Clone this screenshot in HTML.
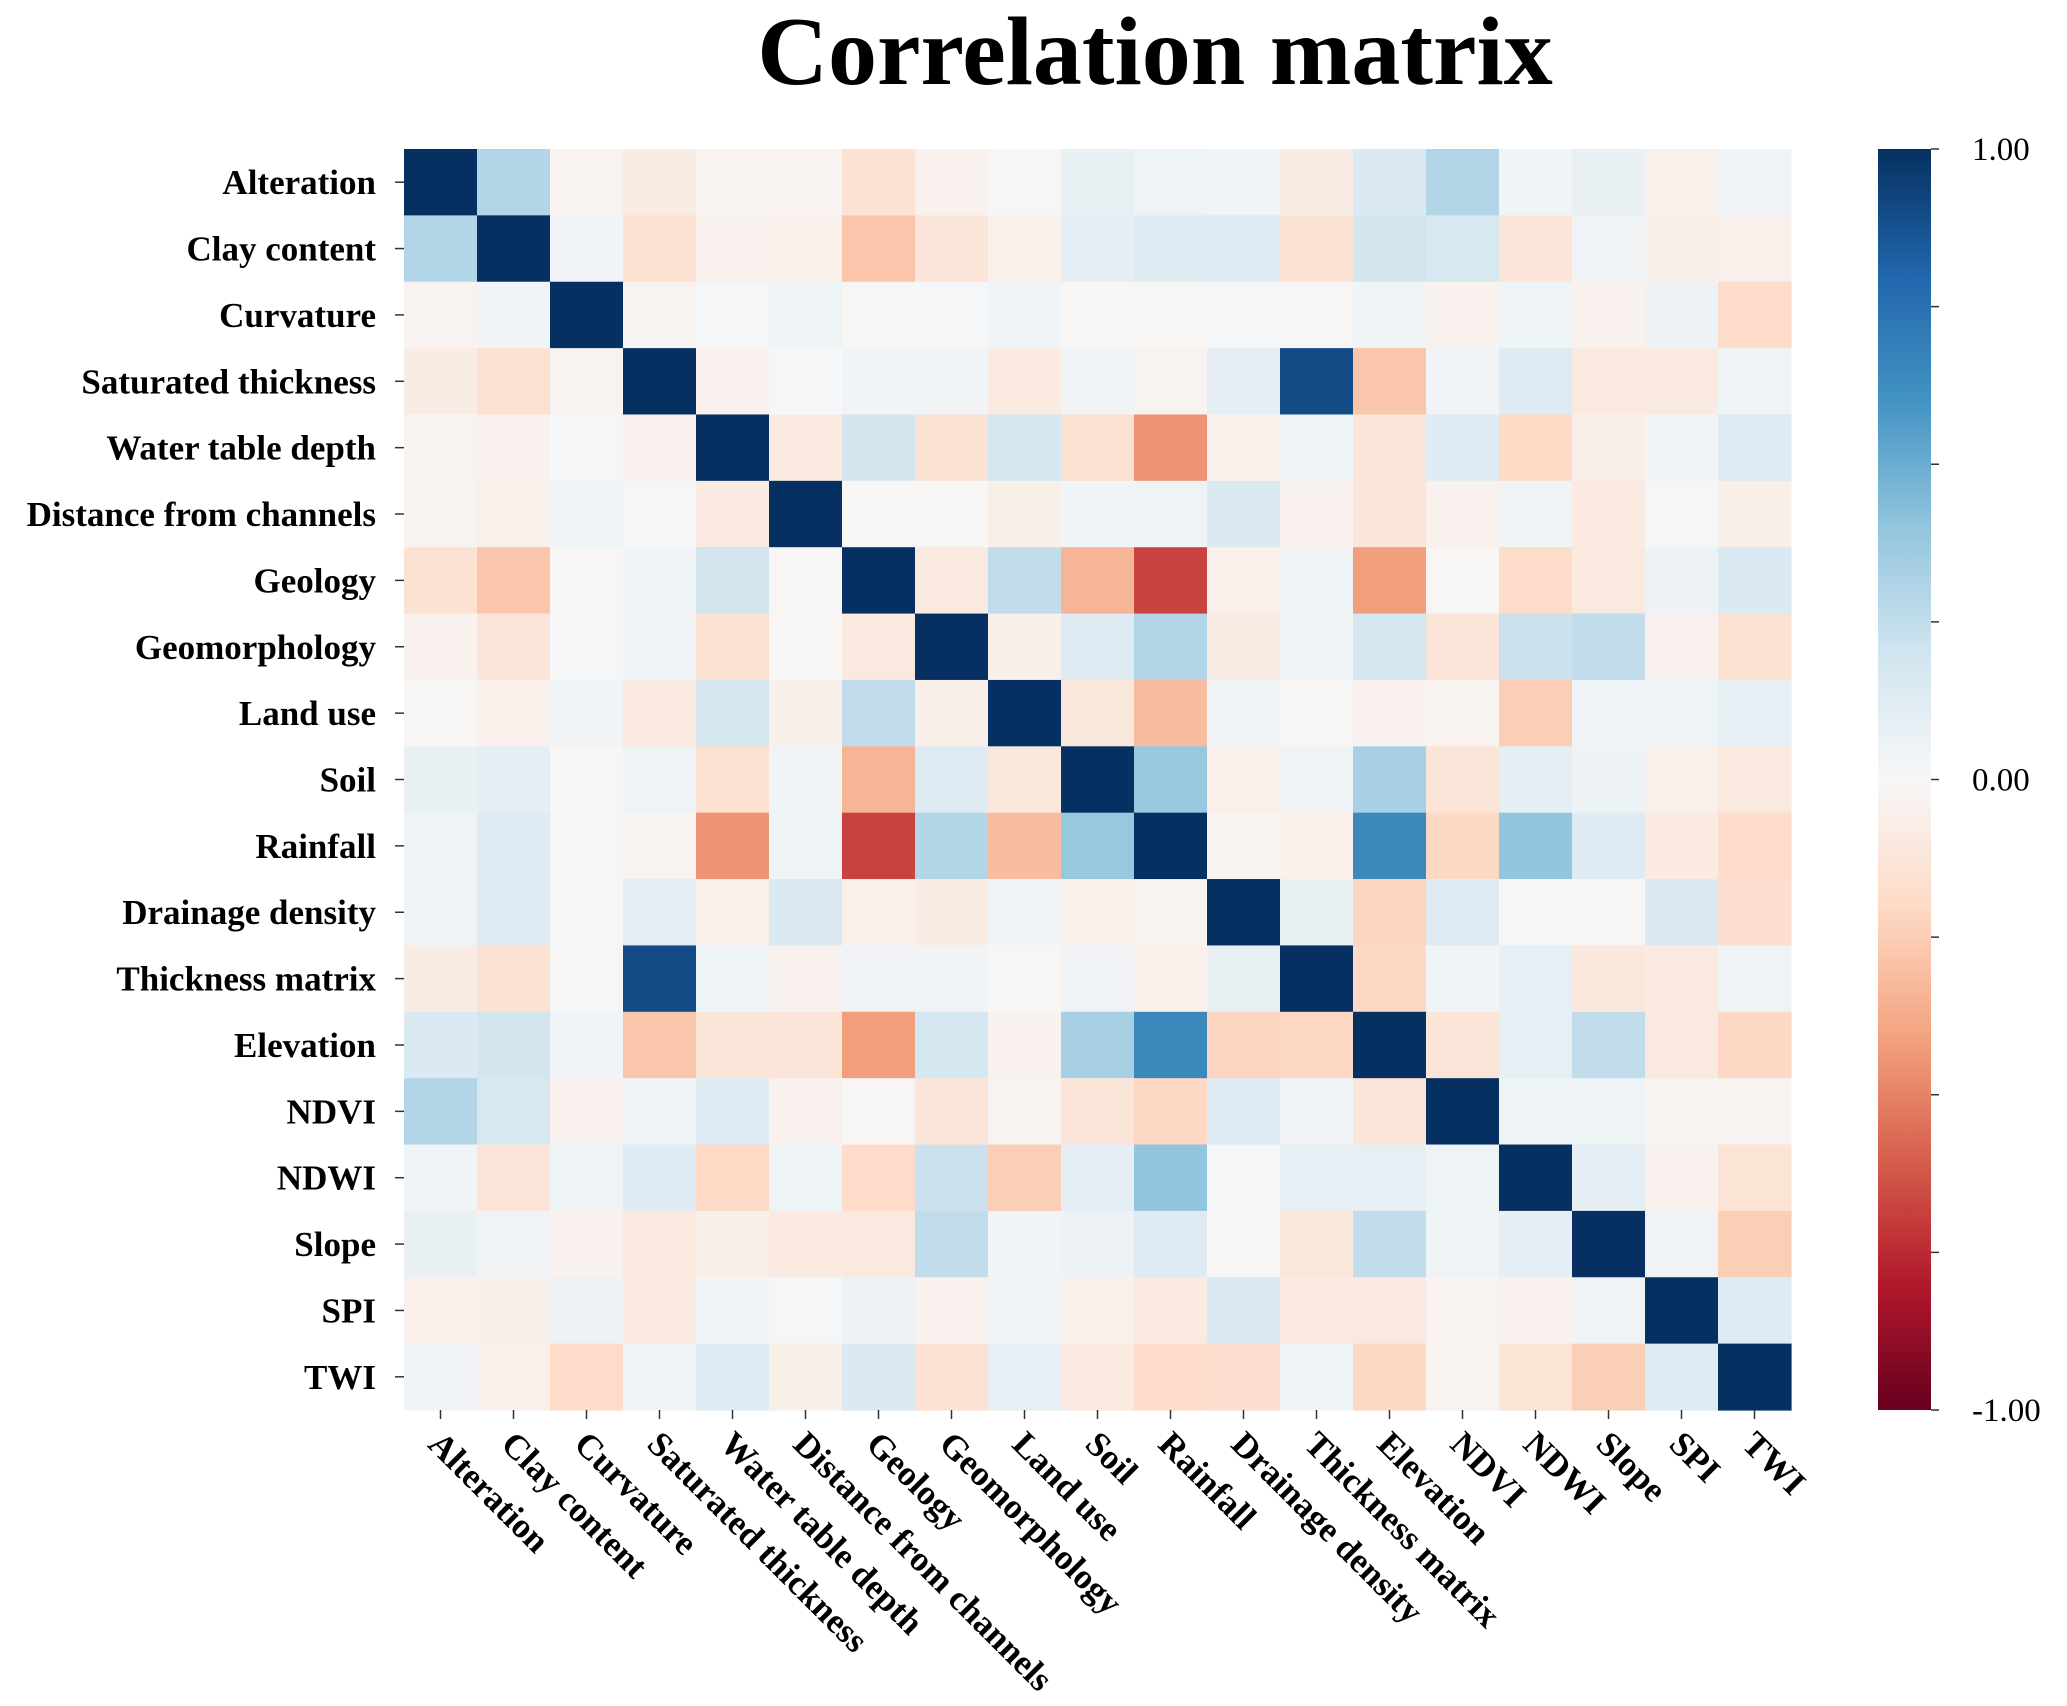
<!DOCTYPE html>
<html><head><meta charset="utf-8"><style>
html,body{margin:0;padding:0;background:#fff;}
svg{display:block;font-family:"Liberation Serif",serif;}
</style></head><body>
<svg id="chart" width="2067" height="1706" viewBox="0 0 2067 1706" xmlns="http://www.w3.org/2000/svg">
<defs>
<linearGradient id="cbar" x1="0" y1="1" x2="0" y2="0">
<stop offset="0" stop-color="#67001f"/><stop offset="0.1" stop-color="#b2182b"/><stop offset="0.2" stop-color="#d6604d"/><stop offset="0.3" stop-color="#f4a582"/><stop offset="0.4" stop-color="#fddbc7"/><stop offset="0.5" stop-color="#f7f7f7"/><stop offset="0.6" stop-color="#d1e5f0"/><stop offset="0.7" stop-color="#92c5de"/><stop offset="0.8" stop-color="#4393c3"/><stop offset="0.9" stop-color="#2166ac"/><stop offset="1" stop-color="#053061"/>
</linearGradient>
</defs>
<text x="1155" y="84" text-anchor="middle" font-size="98" font-weight="bold">Correlation matrix</text>
<g id="cells"></g>
<g id="ylab"></g>
<g id="xlab"></g>
<rect x="1878" y="149" width="53" height="1261" fill="url(#cbar)"/>
<g id="cbticks"></g>
</svg>
<script>
const labels = ["Alteration","Clay content","Curvature","Saturated thickness","Water table depth","Distance from channels","Geology","Geomorphology","Land use","Soil","Rainfall","Drainage density","Thickness matrix","Elevation","NDVI","NDWI","Slope","SPI","TWI"];
const corr = [
[1,.3,-.03,-.08,-.03,-.03,-.15,-.04,-.01,.08,.05,.03,-.08,.15,.3,.03,.08,-.05,.03],
[.3,1,.03,-.16,-.04,-.05,-.28,-.13,-.05,.1,.13,.13,-.15,.19,.17,-.13,.04,-.06,-.05],
[-.03,.03,1,-.03,.01,.05,-.01,.01,.03,-.01,-.01,.01,-.01,.03,-.04,.05,-.04,.06,-.19],
[-.08,-.16,-.03,1,-.04,.01,.03,.03,-.09,.04,-.03,.1,.9,-.28,.03,.13,-.1,-.09,.05],
[-.03,-.04,.01,-.04,1,-.09,.19,-.15,.18,-.16,-.45,-.05,.05,-.13,.13,-.2,-.06,.03,.13],
[-.03,-.05,.05,.01,-.09,1,-.01,-.01,-.06,.03,.05,.15,-.04,-.13,-.04,.05,-.09,.01,-.06],
[-.15,-.28,-.01,.03,.19,-.01,1,-.1,.25,-.34,-.68,-.05,.04,-.42,-.01,-.19,-.1,.06,.15],
[-.04,-.13,.01,.03,-.15,-.01,-.1,1,-.06,.13,.3,-.08,.03,.18,-.13,.22,.25,-.04,-.15],
[-.01,-.05,.03,-.09,.18,-.06,.25,-.06,1,-.11,-.31,.03,-.01,-.04,-.03,-.25,.03,.05,.09],
[.08,.1,-.01,.04,-.16,.03,-.34,.13,-.11,1,.38,-.05,.04,.33,-.13,.1,.06,-.05,-.1],
[.05,.13,-.01,-.03,-.45,.05,-.68,.3,-.31,.38,1,-.03,-.05,.65,-.21,.4,.13,-.09,-.19],
[.03,.13,.01,.1,-.05,.15,-.05,-.08,.03,-.05,-.03,1,.08,-.22,.13,.01,-.01,.15,-.17],
[-.08,-.15,-.01,.9,.05,-.04,.04,.03,-.01,.04,-.05,.08,1,-.21,.03,.09,-.11,-.09,.05],
[.15,.19,.03,-.28,-.13,-.13,-.42,.18,-.04,.33,.65,-.22,-.21,1,-.13,.09,.25,-.1,-.21],
[.3,.17,-.04,.03,.13,-.04,-.01,-.13,-.03,-.13,-.21,.13,.03,-.13,1,.05,.05,-.03,-.03],
[.03,-.13,.05,.13,-.2,.05,-.19,.22,-.25,.1,.4,.01,.09,.09,.05,1,.1,-.04,-.14],
[.08,.04,-.04,-.1,-.06,-.09,-.1,.25,.03,.06,.13,-.01,-.11,.25,.05,.1,1,.04,-.25],
[-.05,-.06,.06,-.09,.03,.01,.06,-.04,.05,-.05,-.09,.15,-.09,-.1,-.03,-.04,.04,1,.13],
[.03,-.05,-.19,.05,.13,-.06,.15,-.15,.09,-.1,-.19,-.17,.05,-.21,-.03,-.14,-.25,.13,1]
];
const cbTickValues = [1,.75,.5,.25,0,-.25,-.5,-.75,-1];
const cbTickLabels = ["1.00","","","","0.00","","","","-1.00"];

const NS="http://www.w3.org/2000/svg";
const X0=404,X1=1791,Y0=149,Y1=1410;
const CBX=1878,CBW=53;
const n=labels.length, cw=(X1-X0)/n, ch=(Y1-Y0)/n;
const xPos=i=>X0+i*cw, yPos=i=>Y0+i*ch;
const cbY=v=>Y0+(1-v)/2*(Y1-Y0);
const stops=["#67001f","#b2182b","#d6604d","#f4a582","#fddbc7","#f7f7f7","#d1e5f0","#92c5de","#4393c3","#2166ac","#053061"];
function hex(h){return [1,3,5].map(k=>parseInt(h.substr(k,2),16));}
function color(v){
  let t=(Math.max(-1,Math.min(1,v))+1)/2*10; let i=Math.min(9,Math.floor(t)); let f=t-i;
  const a=hex(stops[i]),b=hex(stops[i+1]);
  return "rgb("+a.map((c,k)=>Math.round(c+(b[k]-c)*f)).join(",")+")";
}
function mk(tag,attrs,parent){const e=document.createElementNS(NS,tag);for(const k in attrs)e.setAttribute(k,attrs[k]);parent.appendChild(e);return e;}
const gc=document.getElementById("cells"),gy=document.getElementById("ylab"),gx=document.getElementById("xlab"),gt=document.getElementById("cbticks");
for(let r=0;r<n;r++)for(let c=0;c<n;c++){
  const e=mk("rect",{x:xPos(c),y:yPos(r),width:cw+0.6,height:ch+0.6,fill:color(corr[r][c])},gc);
  
  
}
for(let i=0;i<n;i++){
  const yc=yPos(i)+ch/2;
  const tk=mk("line",{x1:X0-9,x2:X0,y1:yc,y2:yc,stroke:"#333","stroke-width":1.5},gy);
  
  
  const t=mk("text",{x:X0-28,y:yc+12,"text-anchor":"end","font-size":35,"font-weight":"bold"},gy);
  t.textContent=labels[i];
  
  
  const xc=xPos(i)+cw/2;
  const tx=mk("line",{x1:xc,x2:xc,y1:Y1,y2:Y1+9,stroke:"#333","stroke-width":1.5},gx);
  
  
  const l=mk("text",{x:0,y:0,"font-size":35,"font-weight":"bold",transform:"translate("+(xc-14)+","+(Y1+36)+") rotate(45)"},gx);
  l.textContent=labels[i];
  
  
}
cbTickValues.forEach((v,i)=>{
  const y=cbY(v);
  const t=mk("line",{x1:CBX+CBW,x2:CBX+CBW+8,y1:y,y2:y,stroke:"#333","stroke-width":1.5},gt);
  
  
  if(cbTickLabels[i]){
    const tl=mk("text",{x:1972,y:y+11,"font-size":33},gt);
    tl.textContent=cbTickLabels[i];
    
    
  }
});
</script>
</body></html>
